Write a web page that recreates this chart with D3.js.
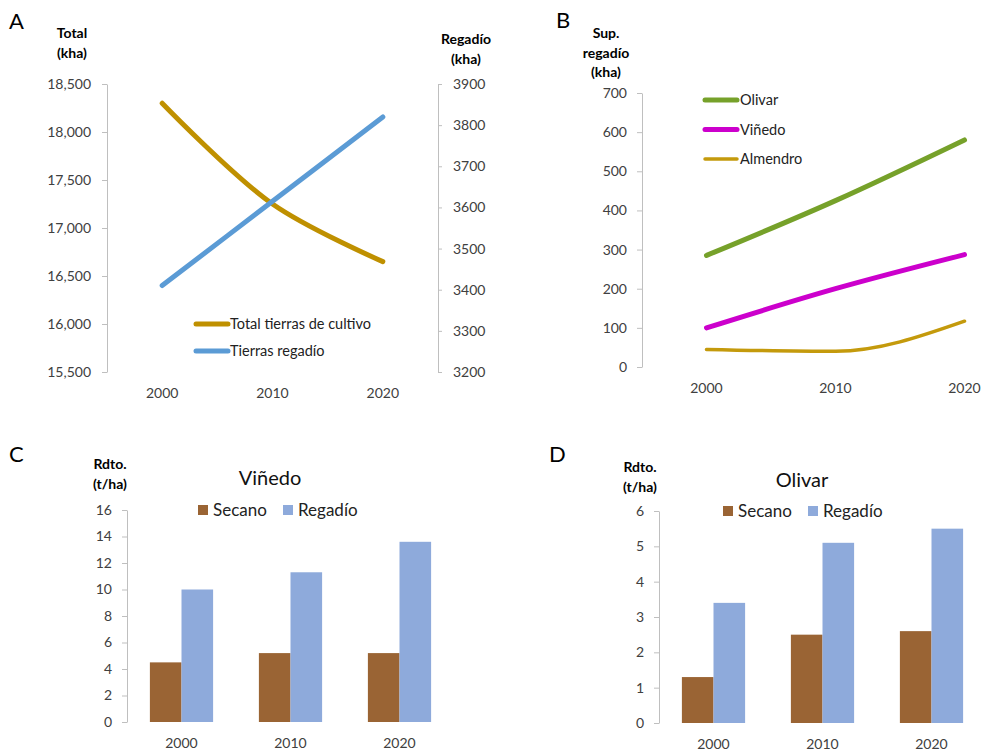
<!DOCTYPE html>
<html>
<head>
<meta charset="utf-8">
<script src="https://cdn.jsdelivr.net/npm/d3@7"></script>
<style>
  html, body { margin: 0; padding: 0; background: #fff; }
  svg { display: block; font-family: Lato, "Open Sans", sans-serif; }
</style>
</head>
<body>
<svg id="chart" width="982" height="751"></svg>
<script>
// ---- data ----
const years = ["2000", "2010", "2020"];

// Panel A: cropland totals (kha)
const totalCultivo = [18300, 17250, 16650];
const tierrasRegadio = [3410, 3615, 3820];

// Panel B: irrigated area by crop (kha)
const olivarSup = [285, 425, 580];
const vinedoSup = [100, 200, 287];
const almendroSup = [45, 40, 117];

// Panels C & D: yields (t/ha)
const yieldSeries = ["Secano", "Regadío"];
const vinedoSecano = [4.5, 5.2, 5.2];
const vinedoRegadio = [10, 11.3, 13.6];
const olivarSecano = [1.3, 2.5, 2.6];
const olivarRegadio = [3.4, 5.1, 5.5];

const leftTicksA = [15500, 16000, 16500, 17000, 17500, 18000, 18500];
const rightTicksA = [3200, 3300, 3400, 3500, 3600, 3700, 3800, 3900];

const svg = d3.select("#chart");

function text(g, x, y, s, opts = {}) {
  return g.append("text")
    .attr("x", x).attr("y", y)
    .attr("text-anchor", opts.anchor || "start")
    .attr("font-size", opts.size || 14)
    .attr("font-weight", opts.weight || "normal")
    .attr("fill", opts.fill || "#000")
    .text(s);
}

function styleAxis(g) {
  g.selectAll("path").attr("stroke", "#bfbfbf");
  g.selectAll("line").attr("stroke", "#bfbfbf");
  g.selectAll("text").attr("fill", "#404040").attr("font-size", 14)
    .attr("font-family", "Lato, 'Open Sans', sans-serif");
}

function yearLabels(g, x, y) {
  g.selectAll(null).data(years).join("text")
    .attr("x", d => x(d)).attr("y", y)
    .attr("text-anchor", "middle")
    .attr("font-size", 14).attr("fill", "#404040")
    .text(d => d);
}

function unitLabel(g, x, y, lines) {
  lines.forEach((s, i) => text(g, x, y + i * 19.5, s, { anchor: "middle", size: 14, weight: "bold" }));
}

// ================= Panel A =================
{
  const g = svg.append("g");
  const x = d3.scalePoint().domain(years).range([107, 438]).padding(0.5);
  const yL = d3.scaleLinear().domain([15500, 18500]).range([372, 84]);
  const yR = d3.scaleLinear().domain([3200, 3900]).range([372, 84]);

  g.append("g").attr("transform", "translate(107,0)")
    .call(d3.axisLeft(yL).tickValues(leftTicksA).tickFormat(d3.format(",")).tickSize(5).tickSizeOuter(0).tickPadding(11))
    .call(styleAxis);
  g.append("g").attr("transform", "translate(438,0)")
    .call(d3.axisRight(yR).tickValues(rightTicksA).tickFormat(d3.format("d")).tickSize(4).tickSizeOuter(0).tickPadding(11))
    .call(styleAxis);

  yearLabels(g, x, 398);

  const line = (y, vals) => d3.line().x((d, i) => x(years[i])).y(d => y(d)).curve(d3.curveCatmullRom.alpha(0.5))(vals);
  g.append("path").attr("d", line(yL, totalCultivo))
    .attr("fill", "none").attr("stroke", "#bf9000").attr("stroke-width", 5).attr("stroke-linecap", "round");
  g.append("path").attr("d", line(yR, tierrasRegadio))
    .attr("fill", "none").attr("stroke", "#5b9bd5").attr("stroke-width", 5).attr("stroke-linecap", "round");

  const legA = [["Total tierras de cultivo", "#bf9000"], ["Tierras regadío", "#5b9bd5"]];
  legA.forEach((d, i) => {
    const yy = 324 + i * 27;
    g.append("line").attr("x1", 196).attr("x2", 228).attr("y1", yy).attr("y2", yy)
      .attr("stroke", d[1]).attr("stroke-width", 5).attr("stroke-linecap", "round");
    text(g, 230, yy + 5, d[0], { size: 14.5, fill: "#222" });
  });

  text(g, 9, 29, "A", { size: 22 });
  unitLabel(g, 72, 38, ["Total", "(kha)"]);
  unitLabel(g, 466, 44, ["Regadío", "(kha)"]);
}

// ================= Panel B =================
{
  const g = svg.append("g");
  const x = d3.scalePoint().domain(years).range([642, 1029]).padding(0.5);
  const y = d3.scaleLinear().domain([0, 700]).range([367, 93]);

  g.append("g").attr("transform", "translate(642,0)")
    .call(d3.axisLeft(y).ticks(7).tickSize(5).tickSizeOuter(0).tickPadding(10))
    .call(styleAxis);

  yearLabels(g, x, 393);

  const series = [
    ["Olivar", olivarSup, "#76a12a", 5],
    ["Viñedo", vinedoSup, "#cc00cc", 5],
    ["Almendro", almendroSup, "#c49a0c", 3.5]
  ];
  const line = d3.line().x((d, i) => x(years[i])).y(d => y(d)).curve(d3.curveMonotoneX);
  series.forEach(s => {
    g.append("path").attr("d", line(s[1]))
      .attr("fill", "none").attr("stroke", s[2]).attr("stroke-width", s[3]).attr("stroke-linecap", "round");
  });

  series.forEach((s, i) => {
    const yy = 100 + i * 29.5;
    g.append("line").attr("x1", 705).attr("x2", 737).attr("y1", yy).attr("y2", yy)
      .attr("stroke", s[2]).attr("stroke-width", s[3]).attr("stroke-linecap", "round");
    text(g, 740, yy + 5, s[0], { size: 14.5, fill: "#222" });
  });

  text(g, 556, 28, "B", { size: 22 });
  unitLabel(g, 606, 38, ["Sup.", "regadío", "(kha)"]);
}

// ================= Panels C & D =================
const barColors = { "Secano": "#9a6434", "Regadío": "#8eaadb" };

function barPanel(opts) {
  const g = svg.append("g");
  const x = d3.scaleBand().domain(years).range([opts.x0, opts.x0 + 327]).paddingInner(0.42).paddingOuter(0.21);
  const xs = d3.scaleBand().domain(yieldSeries).range([0, x.bandwidth()]);
  const y = d3.scaleLinear().domain([0, opts.max]).range([opts.yBottom, opts.yTop]);

  g.append("g").attr("transform", `translate(${opts.x0},0)`)
    .call(d3.axisLeft(y).tickValues(d3.range(0, opts.max + 0.001, opts.step)).tickFormat(d3.format("d"))
      .tickSize(5).tickSizeOuter(0).tickPadding(10))
    .call(styleAxis);

  const rows = years.map((yr, i) => ({ yr, Secano: opts.secano[i], "Regadío": opts.regadio[i] }));
  g.selectAll("g.grp").data(rows).join("g")
    .attr("class", "grp")
    .attr("transform", d => `translate(${x(d.yr)},0)`)
    .selectAll("rect").data(d => yieldSeries.map(k => ({ k, v: d[k] }))).join("rect")
    .attr("x", d => xs(d.k)).attr("width", xs.bandwidth())
    .attr("y", d => y(d.v)).attr("height", d => y(0) - y(d.v))
    .attr("fill", d => barColors[d.k]);

  yearLabels(g, d => x(d) + x.bandwidth() / 2, opts.yBottom + 26);

  text(g, opts.letterX, 462, opts.letter, { size: 22 });
  unitLabel(g, opts.unitX, opts.unitY, ["Rdto.", "(t/ha)"]);
  text(g, opts.titleX, opts.titleY, opts.title, { anchor: "middle", size: 20, fill: "#111" });

  yieldSeries.forEach((k, i) => {
    const lx = opts.legX + i * 85;
    g.append("rect").attr("x", lx).attr("y", opts.legY - 11).attr("width", 10).attr("height", 10)
      .attr("fill", barColors[k]);
    text(g, lx + 15, opts.legY, k, { size: 17, fill: "#222" });
  });
}

barPanel({
  x0: 127, yTop: 510, yBottom: 722, max: 16, step: 2,
  secano: vinedoSecano, regadio: vinedoRegadio,
  letter: "C", letterX: 9, unitX: 110, unitY: 469,
  title: "Viñedo", titleX: 270, titleY: 485,
  legX: 198, legY: 516
});

barPanel({
  x0: 659, yTop: 511, yBottom: 723, max: 6, step: 1,
  secano: olivarSecano, regadio: olivarRegadio,
  letter: "D", letterX: 549, unitX: 640, unitY: 472,
  title: "Olivar", titleX: 802, titleY: 487,
  legX: 723, legY: 517
});
</script>
</body>
</html>
